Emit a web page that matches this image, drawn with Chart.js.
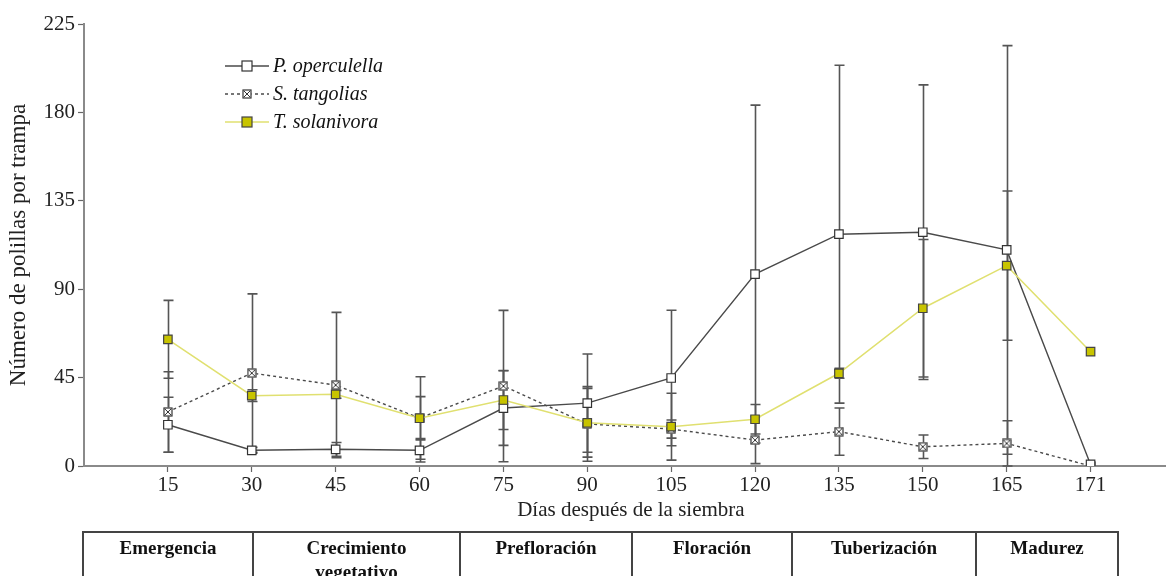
<!DOCTYPE html>
<html>
<head>
<meta charset="utf-8">
<script src="https://cdn.jsdelivr.net/npm/chart.js@4.4.1/dist/chart.umd.min.js"></script>
<style>
  html, body { margin: 0; padding: 0; background: #fff; }
  #wrap { position: relative; width: 1166px; height: 576px; overflow: hidden; }
  #chart { position: absolute; left: 0; top: 0; }
  .stage {
    position: absolute; top: 531px; height: 70px; box-sizing: border-box;
    border: 2px solid #444; margin-left: -2px;
    font: bold 19px "Liberation Serif", "Times New Roman", serif; color: #111;
    text-align: center; line-height: 24px; padding-top: 3px;
  }
</style>
</head>
<body>
<div id="wrap">
  <canvas id="chart" width="1185" height="576"></canvas>
</div>
<script>
// Sampling days after sowing
const days = ['15', '30', '45', '60', '75', '90', '105', '120', '135', '150', '165', '171'];

// Mean moths per trap and standard deviation, per species
const operculella   = [21, 8, 8.5, 8, 29.5, 32, 44.8, 97.7, 118, 119, 110, 0.8];
const operculellaSD = [14, 1.5, 3.5, 6, 19, 25, 34.5, 86, 86, 75, 104, 0];
const tangolias     = [27.5, 47.3, 41.2, 24.4, 40.7, 21.4, 18.8, 13.2, 17.5, 9.8, 11.5, 0];
const tangoliasSD   = [20.5, 40.3, 37, 21, 38.5, 19, 4.6, 12, 12, 6, 11.5, 0];
const solanivora    = [64.5, 35.8, 36.5, 24.3, 33.6, 22, 20, 23.8, 47.2, 80.3, 102, 58.2];
const solanivoraSD  = [19.8, 3, 2, 11, 15, 17.5, 17, 7.5, 2.5, 35, 38, 0];

// Y axis ticks
const yTicks = [0, 45, 90, 135, 180, 225];

// Crop phenology stages shown under the axis
const stages = ['Emergencia', 'Crecimiento vegetativo', 'Prefloración', 'Floración', 'Tuberización', 'Madurez'];
const stageEdges = [84, 254, 461, 633, 793, 977, 1119];

const SERIF = '"Liberation Serif", "Times New Roman", serif';
const DARK = '#4a4a4a';

// crossed-square marker for S. tangolias
function crossedSquare(size) {
  const c = document.createElement('canvas');
  c.width = size; c.height = size;
  const g = c.getContext('2d');
  g.fillStyle = '#fff';
  g.fillRect(0.5, 0.5, size - 1, size - 1);
  g.strokeStyle = '#333';
  g.lineWidth = 1.2;
  g.strokeRect(1, 1, size - 2, size - 2);
  g.lineWidth = 1;
  g.beginPath();
  g.moveTo(2, 2); g.lineTo(size - 2, size - 2);
  g.moveTo(size - 2, 2); g.lineTo(2, size - 2);
  g.stroke();
  return c;
}
const crossMarker = crossedSquare(10);

const toPoints = arr => arr.map((v, i) => ({ x: i + 1, y: v }));

// vertical error bars (mean ± SD) drawn through the scales
const errorBars = {
  id: 'errorBars',
  beforeDatasetsDraw(chart) {
    const { ctx, scales: { x, y } } = chart;
    ctx.save();
    ctx.strokeStyle = '#555';
    ctx.lineWidth = 1.6;
    chart.data.datasets.forEach(ds => {
      (ds.sd || []).forEach((s, i) => {
        if (!s) return;
        const p = ds.data[i];
        const px = Math.round(x.getPixelForValue(p.x)) + 0.5;
        const top = y.getPixelForValue(p.y + s);
        const bot = y.getPixelForValue(Math.max(0, p.y - s));
        ctx.beginPath();
        ctx.moveTo(px, top); ctx.lineTo(px, bot);
        ctx.moveTo(px - 5, top); ctx.lineTo(px + 5, top);
        ctx.moveTo(px - 5, bot); ctx.lineTo(px + 5, bot);
        ctx.stroke();
      });
    });
    ctx.restore();
  }
};

// in-plot legend with line + marker samples
const seriesLegend = {
  id: 'seriesLegend',
  afterDraw(chart) {
    const { ctx } = chart;
    const x0 = 225, x1 = 269, xm = 247, tx = 273;
    const rows = [66, 94, 122];
    ctx.save();
    chart.data.datasets.slice().sort((a, b) => a.legendRow - b.legendRow).forEach((ds, k) => {
      const yy = rows[k];
      ctx.strokeStyle = ds.borderColor;
      ctx.lineWidth = ds.borderWidth;
      ctx.setLineDash(ds.borderDash || []);
      ctx.beginPath();
      ctx.moveTo(x0, yy); ctx.lineTo(x1, yy);
      ctx.stroke();
      ctx.setLineDash([]);
      if (ds.pointStyle === 'rect') {
        ctx.fillStyle = ds.pointBackgroundColor;
        ctx.fillRect(xm - 5, yy - 5, 10, 10);
        ctx.strokeStyle = ds.pointBorderColor;
        ctx.lineWidth = 1.2;
        ctx.strokeRect(xm - 5, yy - 5, 10, 10);
      } else {
        ctx.drawImage(crossMarker, xm - 5, yy - 5);
      }
      ctx.fillStyle = '#111';
      ctx.font = 'italic 20px ' + SERIF;
      ctx.textBaseline = 'middle';
      ctx.fillText(ds.label, tx, yy + 1);
    });
    ctx.restore();
  }
};

new Chart(document.getElementById('chart'), {
  type: 'line',
  data: {
    datasets: [
      {
        label: 'T. solanivora', legendRow: 2, order: 0,
        data: toPoints(solanivora), sd: solanivoraSD,
        borderColor: '#e0e070', borderWidth: 1.5,
        pointStyle: 'rect', pointRadius: 6,
        pointBackgroundColor: '#c8c400', pointBorderColor: '#444', pointBorderWidth: 1.2
      },
      {
        label: 'P. operculella', legendRow: 0, order: 1,
        data: toPoints(operculella), sd: operculellaSD,
        borderColor: DARK, borderWidth: 1.4,
        pointStyle: 'rect', pointRadius: 6,
        pointBackgroundColor: '#fff', pointBorderColor: '#333', pointBorderWidth: 1.2
      },
      {
        label: 'S. tangolias', legendRow: 1, order: 2,
        data: toPoints(tangolias), sd: tangoliasSD,
        borderColor: DARK, borderWidth: 1.4, borderDash: [3, 3],
        pointStyle: crossMarker, pointRadius: 5
      }
    ]
  },
  options: {
    responsive: false,
    animation: false,
    layout: { padding: { top: 24, right: 0, bottom: 0, left: 0 } },
    plugins: { legend: { display: false }, tooltip: { enabled: false } },
    scales: {
      x: {
        type: 'linear', min: 0, max: 13.04,
        afterFit(s) { s.height = 110; },
        afterBuildTicks(s) { s.ticks = days.map((d, i) => ({ value: i + 1 })); },
        border: { color: '#8a8a8a', width: 2 },
        grid: { drawOnChartArea: false, color: '#666', tickLength: 6, tickWidth: 1.2 },
        ticks: {
          autoSkip: false, maxRotation: 0, padding: 1, color: '#222',
          font: { family: SERIF, size: 21 },
          callback: v => days[v - 1]
        },
        title: {
          display: true, text: 'Días después de la siembra', color: '#222',
          font: { family: SERIF, size: 21 }, padding: { top: 0, bottom: 53 }
        }
      },
      y: {
        min: 0, max: 225,
        afterFit(s) { s.width = 84; },
        afterBuildTicks(s) { s.ticks = yTicks.map(v => ({ value: v })); },
        border: { color: '#8a8a8a', width: 2 },
        grid: { drawOnChartArea: false, color: '#666', tickLength: 6, tickWidth: 1.2 },
        ticks: { padding: 3, color: '#222', font: { family: SERIF, size: 21 } },
        title: {
          display: true, text: 'Número de polillas por trampa', color: '#222',
          font: { family: SERIF, size: 23 }, padding: { top: 5, bottom: 0 }
        }
      }
    }
  },
  plugins: [errorBars, seriesLegend]
});

// phenology stage boxes below the axis
const wrap = document.getElementById('wrap');
stages.forEach((name, i) => {
  const d = document.createElement('div');
  d.className = 'stage';
  d.style.left = stageEdges[i] + 'px';
  d.style.width = (stageEdges[i + 1] - stageEdges[i] + 2) + 'px';
  d.textContent = name;
  if (name === 'Crecimiento vegetativo') d.innerHTML = 'Crecimiento<br>vegetativo';
  wrap.appendChild(d);
});
</script>
</body>
</html>
